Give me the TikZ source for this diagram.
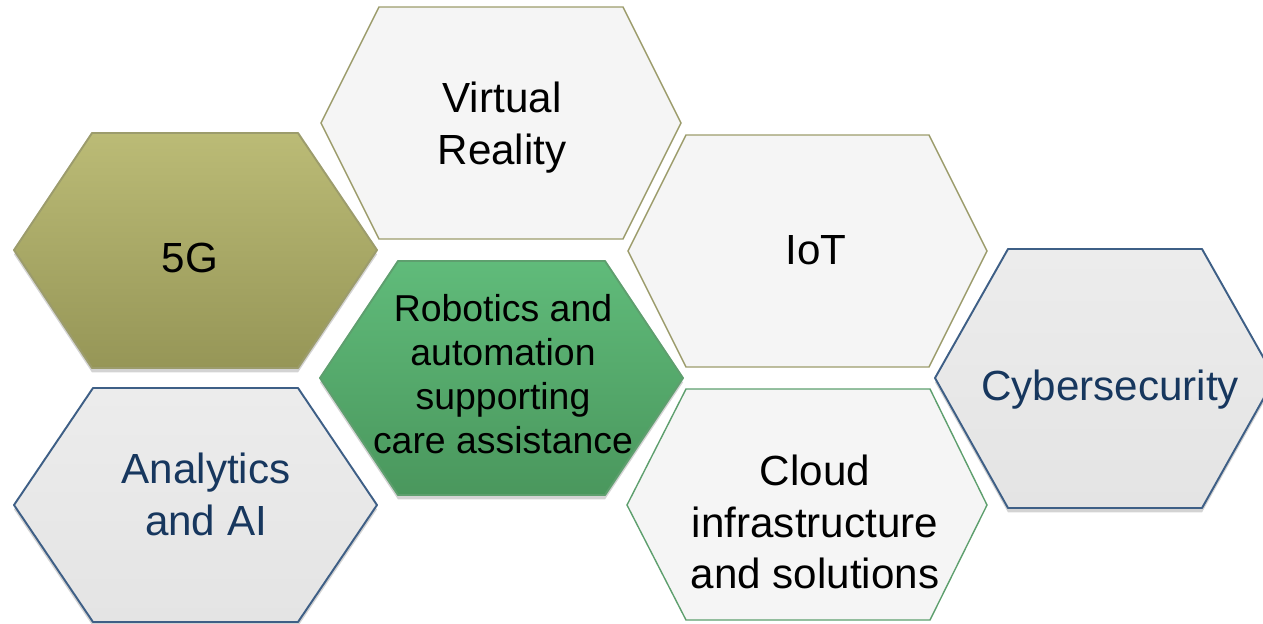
\documentclass[tikz,border=0pt]{standalone}
\usepackage{fontspec}
\setmainfont{Liberation Sans}
\usepackage{tikz}
\usetikzlibrary{shadows}
\definecolor{olivetop}{HTML}{BBBB76}
\definecolor{olivebot}{HTML}{969657}
\definecolor{oliveline}{HTML}{9C9C6C}
\definecolor{greentop}{HTML}{60BB7A}
\definecolor{greenbot}{HTML}{4A975D}
\definecolor{greenline}{HTML}{5E9F6E}
\definecolor{paper}{HTML}{F5F5F5}
\definecolor{greyfill}{HTML}{E4E4E4}
\definecolor{blueline}{HTML}{3E5F86}
\definecolor{bluetext}{HTML}{17375E}

\begin{document}
\begin{tikzpicture}[x=0.02cm, y=0.02cm,
  plainhex/.style={fill=paper, line width=0.8pt},
  bevelhex/.style={line width=1.1pt, line join=round,
    drop shadow={opacity=0.35, shadow xshift=0pt, shadow yshift=-2.5pt}},
  bigtxt/.style={font=\fontsize{24}{29.5}\selectfont, align=center, inner sep=0pt},
  smalltxt/.style={font=\fontsize{21.3}{25.1}\selectfont, align=center, inner sep=0pt}]
\useasboundingbox (0,0) rectangle (1263,-623);
% plain hexagons
\draw[plainhex, draw=oliveline] (321,-123)--(379,-7)--(623,-7)--(681,-123)--(623,-239)--(379,-239)--cycle;
\draw[plainhex, draw=oliveline] (628,-251)--(686,-135)--(929,-135)--(987,-251)--(929,-367)--(686,-367)--cycle;
\draw[plainhex, draw=greenline] (627,-505)--(686,-389)--(930,-389)--(987,-505)--(930,-620)--(686,-620)--cycle;
% bevelled hexagons
\draw[bevelhex, draw=oliveline, top color=olivetop, bottom color=olivebot] (14,-250)--(92,-133)--(298,-133)--(377,-250)--(298,-368)--(92,-368)--cycle;
\draw[bevelhex, draw=greenline, top color=greentop, bottom color=greenbot] (320,-378)--(398,-261)--(605,-261)--(683,-378)--(605,-495)--(398,-495)--cycle;
\draw[bevelhex, draw=blueline, top color=greyfill!70!white, bottom color=greyfill] (14,-505)--(93,-388)--(298,-388)--(377,-505)--(298,-622)--(93,-622)--cycle;
\draw[bevelhex, draw=blueline, top color=greyfill!70!white, bottom color=greyfill] (935,-378)--(1008,-249)--(1202,-249)--(1275,-378)--(1202,-508)--(1008,-508)--cycle;
% labels
\node[bigtxt] (n5g) at (190,-258) {5G};
\node[bigtxt] (nvr) at (502,-128) {Virtual\\Reality};
\node[bigtxt] (niot) at (816,-250) {IoT};
\node[smalltxt] (nrobot) at (503,-374) {Robotics and\\automation\\supporting\\care assistance};
\node[bigtxt, text=bluetext] (nai) at (206,-494) {Analytics\\and AI};
\node[bigtxt] (ncloud) at (815,-522) {Cloud\\infrastructure\\and solutions};
\node[bigtxt, text=bluetext] (ncyber) at (1110,-390) {Cybersecurity};
\end{tikzpicture}
\end{document}
